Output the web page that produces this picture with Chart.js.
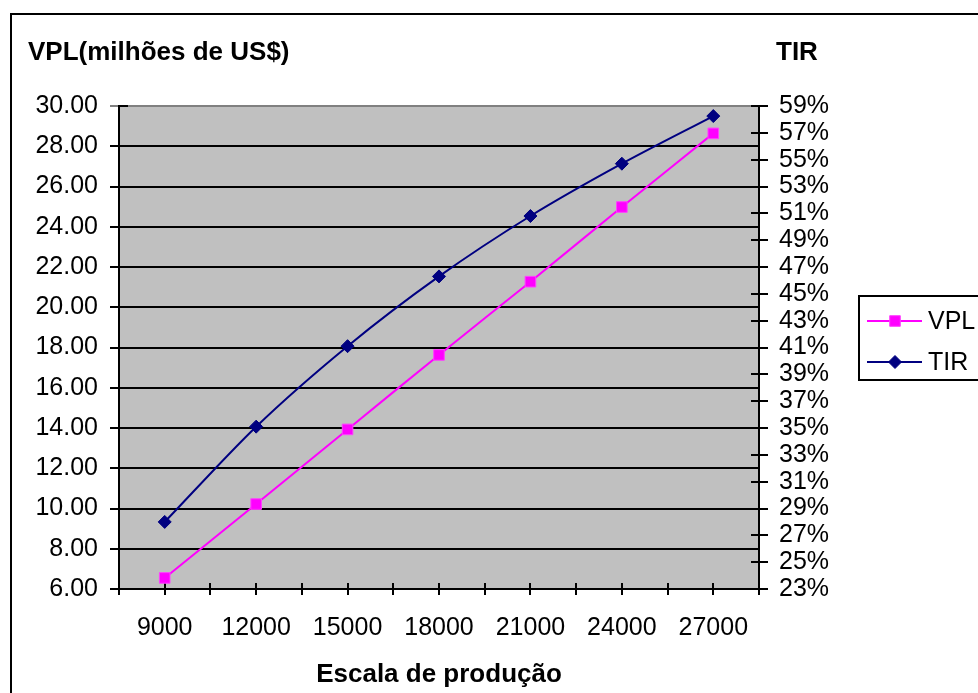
<!DOCTYPE html>
<html>
<head>
<meta charset="utf-8">
<script src="https://cdn.jsdelivr.net/npm/chart.js@4/dist/chart.umd.min.js"></script>
<style>
  html, body { margin: 0; padding: 0; background: #fff; overflow: hidden; }
  #wrap { position: relative; width: 978px; height: 693px; }
  #frame { position: absolute; left: 10px; top: 13px; width: 1010px; height: 720px;
           border: 2px solid #000; box-sizing: border-box; }
  #c { position: absolute; left: 0; top: 0; }
</style>
</head>
<body>
<div id="wrap">
  <div id="frame"></div>
  <canvas id="c" width="978" height="693"></canvas>
</div>
<script>
// Escala de produção (categorias do eixo X)
const escala = [9000, 12000, 15000, 18000, 21000, 24000, 27000];
// VPL em milhões de US$
const vpl = [6.55, 10.22, 13.93, 17.63, 21.27, 24.98, 28.64];
// TIR em %
const tir = [28.0, 35.1, 41.1, 46.3, 50.8, 54.7, 58.25];
// Marcas dos eixos
const vplTicks = [6, 8, 10, 12, 14, 16, 18, 20, 22, 24, 26, 28, 30];
const tirTicks = [23, 25, 27, 29, 31, 33, 35, 37, 39, 41, 43, 45, 47, 49, 51, 53, 55, 57, 59];

const FONT = '"Liberation Sans", Arial, sans-serif';
const TICK_SIZE = 25;
const passo = escala[1] - escala[0];

const toPoints = (vals) => vals.map((v, i) => ({ x: escala[i], y: v }));

// Fundo cinza da área de plotagem
const plotBg = {
  id: 'plotBg',
  beforeDraw(chart) {
    const { ctx, chartArea: a } = chart;
    ctx.save();
    ctx.fillStyle = '#C0C0C0';
    ctx.fillRect(a.left, a.top, a.right - a.left, a.bottom - a.top);
    ctx.restore();
  }
};

// Parte interna das marcas de escala (cruzando os eixos)
const innerTicks = {
  id: 'innerTicks',
  beforeDatasetsDraw(chart) {
    const { ctx, chartArea: a, scales } = chart;
    ctx.save();
    ctx.strokeStyle = '#000';
    ctx.lineWidth = 2;
    ctx.beginPath();
    scales.x.ticks.forEach(t => {
      const px = Math.round(scales.x.getPixelForValue(t.value));
      ctx.moveTo(px, a.bottom); ctx.lineTo(px, a.bottom - 6);
    });
    scales.y.ticks.forEach(t => {
      const py = Math.round(scales.y.getPixelForValue(t.value));
      ctx.moveTo(a.left, py); ctx.lineTo(a.left + 9, py);
    });
    scales.y1.ticks.forEach(t => {
      const py = Math.round(scales.y1.getPixelForValue(t.value));
      ctx.moveTo(a.right, py); ctx.lineTo(a.right - 8, py);
    });
    ctx.stroke();
    ctx.restore();
  }
};

// Títulos dos eixos verticais, escritos na horizontal
const axisHeads = {
  id: 'axisHeads',
  afterDraw(chart) {
    const { ctx } = chart;
    ctx.save();
    ctx.fillStyle = '#000';
    ctx.font = 'bold 26px ' + FONT;
    ctx.textBaseline = 'alphabetic';
    ctx.textAlign = 'left';
    ctx.fillText('VPL(milhões de US$)', 28, 60);
    ctx.fillText('TIR', 776, 60);
    ctx.restore();
  }
};

// Legenda em caixa à direita
const boxLegend = {
  id: 'boxLegend',
  afterDraw(chart) {
    const { ctx } = chart;
    ctx.save();
    ctx.strokeStyle = '#000';
    ctx.lineWidth = 2;
    ctx.strokeRect(859, 296, 160, 84);
    const rows = [321, 362];
    chart.data.datasets.forEach((ds, i) => {
      const y = rows[i];
      ctx.strokeStyle = ds.borderColor;
      ctx.lineWidth = ds.borderWidth;
      ctx.beginPath();
      ctx.moveTo(867, y); ctx.lineTo(922, y);
      ctx.stroke();
      const cx = 895, r = ds.pointRadius;
      ctx.fillStyle = ds.pointBackgroundColor;
      ctx.strokeStyle = ds.pointBorderColor;
      ctx.lineWidth = ds.pointBorderWidth;
      ctx.beginPath();
      if (ds.pointStyle === 'rect') {
        const s = r * Math.SQRT1_2;
        ctx.rect(cx - s, y - s, 2 * s, 2 * s);
      } else {
        ctx.moveTo(cx, y - r); ctx.lineTo(cx + r, y);
        ctx.lineTo(cx, y + r); ctx.lineTo(cx - r, y);
        ctx.closePath();
      }
      ctx.fill(); ctx.stroke();
      ctx.fillStyle = '#000';
      ctx.font = TICK_SIZE + 'px ' + FONT;
      ctx.textBaseline = 'middle';
      ctx.fillText(ds.label, 928, y + 1);
    });
    ctx.restore();
  }
};

new Chart(document.getElementById('c'), {
  type: 'line',
  data: {
    datasets: [
      {
        label: 'VPL',
        data: toPoints(vpl),
        yAxisID: 'y',
        borderColor: '#FF00FF',
        borderWidth: 2,
        pointStyle: 'rect',
        pointRadius: 7.5,
        pointBackgroundColor: '#FF00FF',
        pointBorderColor: '#FF40FF',
        pointBorderWidth: 1,
        tension: 0.3
      },
      {
        label: 'TIR',
        data: toPoints(tir),
        yAxisID: 'y1',
        borderColor: '#000080',
        borderWidth: 2,
        pointStyle: 'rectRot',
        pointRadius: 6.5,
        pointBackgroundColor: '#000080',
        pointBorderColor: '#000080',
        pointBorderWidth: 1,
        tension: 0.3
      }
    ]
  },
  options: {
    responsive: false,
    animation: false,
    devicePixelRatio: 1,
    layout: { padding: { top: 106, left: 0, right: 0, bottom: 0 } },
    plugins: {
      legend: { display: false },
      tooltip: { enabled: false }
    },
    scales: {
      x: {
        type: 'linear',
        position: 'bottom',
        min: escala[0] - passo / 2,
        max: escala[escala.length - 1] + passo / 2,
        afterFit(scale) { scale.height = 104; },
        border: { display: true, color: '#000', width: 2 },
        grid: { display: true, drawOnChartArea: false, drawTicks: true, tickLength: 6, color: '#000', lineWidth: 2 },
        ticks: {
          stepSize: passo / 2,
          maxTicksLimit: 60,
          autoSkip: false,
          maxRotation: 0,
          padding: 18,
          color: '#000',
          font: { family: FONT, size: TICK_SIZE },
          callback: (v) => escala.includes(v) ? String(v) : ''
        },
        title: {
          display: true,
          text: 'Escala de produção',
          color: '#000',
          font: { family: FONT, size: 26, weight: 'bold' },
          padding: { top: 0, bottom: 3 }
        }
      },
      y: {
        type: 'linear',
        position: 'left',
        min: vplTicks[0],
        max: vplTicks[vplTicks.length - 1],
        afterFit(scale) { scale.width = 119; },
        border: { display: true, color: '#000', width: 2 },
        grid: {
          display: true, drawOnChartArea: true, drawTicks: true, tickLength: 9, lineWidth: 2,
          color: (c) => (c.tick && c.tick.value === vplTicks[vplTicks.length - 1]) ? '#808080' : '#000'
        },
        afterBuildTicks(scale) { scale.ticks = vplTicks.map(v => ({ value: v })); },
        ticks: {
          autoSkip: false,
          padding: 12,
          color: '#000',
          font: { family: FONT, size: TICK_SIZE },
          callback: (v) => v.toFixed(2)
        }
      },
      y1: {
        type: 'linear',
        position: 'right',
        min: tirTicks[0],
        max: tirTicks[tirTicks.length - 1],
        afterFit(scale) { scale.width = 219; },
        border: { display: true, color: '#000', width: 2 },
        grid: { display: true, drawOnChartArea: false, drawTicks: true, tickLength: 9, color: '#000', lineWidth: 2 },
        afterBuildTicks(scale) { scale.ticks = tirTicks.map(v => ({ value: v })); },
        ticks: {
          autoSkip: false,
          padding: 11,
          color: '#000',
          font: { family: FONT, size: TICK_SIZE },
          callback: (v) => v + '%'
        }
      }
    }
  },
  plugins: [plotBg, innerTicks, axisHeads, boxLegend]
});
</script>
</body>
</html>
